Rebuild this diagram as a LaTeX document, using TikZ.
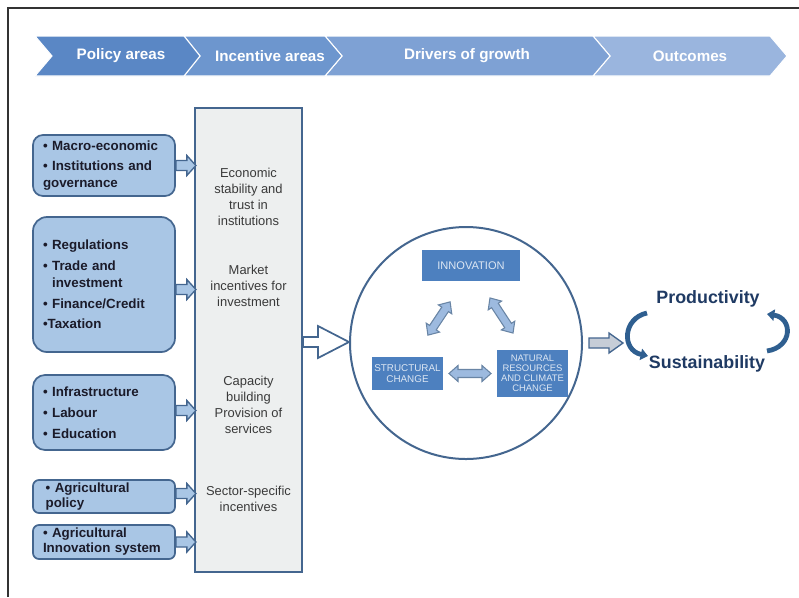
\documentclass[tikz,border=0pt]{standalone}
\usepackage{fontspec}
\setmainfont{Liberation Sans}
\usetikzlibrary{arrows.meta,calc}

% one drawing unit = 0.75pt
\def\pxu{0.75pt}

\definecolor{chevA}{HTML}{5A87C5}
\definecolor{chevB}{HTML}{6D96CE}
\definecolor{chevC}{HTML}{7EA1D4}
\definecolor{chevD}{HTML}{9AB5DE}
\definecolor{steel}{HTML}{44668F}
\definecolor{boxfill}{HTML}{A9C6E5}
\definecolor{panelfill}{HTML}{EDEFEF}
\definecolor{driverfill}{HTML}{4D80BF}
\definecolor{drivertext}{HTML}{DCE6F3}
\definecolor{darrfill}{HTML}{9DBADF}
\definecolor{navy}{HTML}{1F3A63}
\definecolor{cyclecol}{HTML}{2F5F90}
\definecolor{labelgray}{HTML}{3A3A3A}
\definecolor{outfill}{HTML}{C6CDD7}
\definecolor{boxtext}{HTML}{1B1B2A}
\definecolor{framecol}{HTML}{333333}

\tikzset{
  chev/.style={fill=#1, draw=white, line width=0.8pt, line join=miter},
  chevlabel/.style={text=white, font=\bfseries\fontsize{11.4}{13}\selectfont, inner sep=0pt},
  policybox/.style={draw=steel, fill=boxfill, line width=1.3pt,
    text width=122*\pxu, inner xsep=10*\pxu, inner ysep=0pt, align=left,
    text=boxtext, font=\bfseries\fontsize{10}{12.6}\selectfont},
  panelbox/.style={draw=steel, fill=panelfill, line width=1.5pt, inner sep=0pt},
  panellabel/.style={align=center, text=labelgray, inner sep=0pt,
    font=\fontsize{9.7}{12}\selectfont},
  drivercircle/.style={circle, draw=steel, fill=white, line width=1.5pt, inner sep=0pt},
  driverbox/.style={fill=driverfill, text=drivertext, align=center, inner sep=0pt},
  outcomelabel/.style={text=navy, font=\bfseries\fontsize{13.4}{15}\selectfont, inner sep=0pt},
  smallarrow/.style={draw=steel, fill=boxfill, line width=1pt, line join=miter},
  bigarrow/.style={draw=steel, fill=white, line width=1.3pt, line join=miter},
  outarrow/.style={draw=steel, fill=outfill, line width=1pt, line join=miter},
  dblarrow/.style={draw=steel!80, fill=darrfill, line width=0.8pt, line join=miter},
  cyclearrow/.style={draw=cyclecol, line width=3.6pt,
    -{Triangle[length=5.5pt,width=8.5pt]}},
  frameline/.style={draw=framecol, line width=1pt},
  pics/smallarr/.style={code={
    \draw[smallarrow] (0,-5) -- (11,-5) -- (11,-10) -- (20,0) -- (11,10) -- (11,5) -- (0,5) -- cycle;}},
  pics/bigarr/.style={code={
    \draw[bigarrow] (0,-5) -- (15,-5) -- (15,-16) -- (46,0) -- (15,16) -- (15,5) -- (0,5) -- cycle;}},
  pics/outarr/.style={code={
    \draw[outarrow] (0,-5) -- (20,-5) -- (20,-10) -- (34,0) -- (20,10) -- (20,5) -- (0,5) -- cycle;}},
  pics/dblarr/.style={code={
    \draw[dblarrow] ({-#1/2},0) -- ({-#1/2+9},-8) -- ({-#1/2+9},-4) -- ({#1/2-9},-4)
      -- ({#1/2-9},-8) -- ({#1/2},0) -- ({#1/2-9},8) -- ({#1/2-9},4)
      -- ({-#1/2+9},4) -- ({-#1/2+9},8) -- cycle;}},
}

\begin{document}
\begin{tikzpicture}[x=0.75pt, y=-0.75pt]
\useasboundingbox (0,0) rectangle (799,597);

% frame
\draw[frameline] (8,597) -- (8,8) -- (799,8);

% chevron band
\path[chev=chevD] (593,36) -- (770,36) -- (787,56) -- (770,76) -- (593,76) -- (610,56) -- cycle;
\path[chev=chevC] (325,36) -- (593,36) -- (610,56) -- (593,76) -- (325,76) -- (342,56) -- cycle;
\path[chev=chevB] (184,36) -- (325,36) -- (342,56) -- (325,76) -- (184,76) -- (200,56) -- cycle;
\path[chev=chevA] (35,36) -- (184,36) -- (200,56) -- (184,76) -- (35,76) -- (52,56) -- cycle;
\node[chevlabel] (policy) at (121,56) {Policy areas};
\node[chevlabel] (incent) at (270,56) {Incentive areas};
\node[chevlabel] (drivers) at (467,56) {Drivers of growth};
\node[chevlabel] (outcomes) at (690,56) {Outcomes};

% incentive panel
\node[panelbox, minimum width=107*\pxu, minimum height=464*\pxu] (inc) at (248.5,340) {};
\node[panellabel] (stab) at (248.5,197) {Economic\\stability and\\trust in\\institutions};
\node[panellabel] (market) at (248.5,286) {Market\\incentives for\\investment};
\node[panellabel] (capac) at (248.5,405) {Capacity\\building\\Provision of\\services};
\node[panellabel] (sector) at (248.5,499) {Sector-specific\\incentives};

% policy boxes
\node[policybox, rounded corners=10*\pxu, minimum height=61*\pxu] (b1) at (104,165.5)
  {• Macro-economic\\[3pt]• Institutions and\\governance};
\node[policybox, rounded corners=14*\pxu, minimum height=135*\pxu] (b2) at (104,284.5)
  {• Regulations\\[3pt]• Trade and\\\phantom{• }investment\\[3pt]• Finance/Credit\\[3pt]•Taxation};
\node[policybox, rounded corners=12*\pxu, minimum height=75*\pxu] (b3) at (104,412.5)
  {• Infrastructure\\[3pt]• Labour\\[3pt]• Education};
\node[policybox, rounded corners=6*\pxu, minimum height=33*\pxu, font=\bfseries\fontsize{10}{11.6}\selectfont] (b4) at (104,496.5)
  {\hspace*{2pt}• Agricultural\\\hspace*{2pt}policy};
\node[policybox, rounded corners=6*\pxu, minimum height=34*\pxu, font=\bfseries\fontsize{10}{11.2}\selectfont] (b5) at (104,542)
  {• Agricultural\\Innovation system};

% arrows into the panel
\pic at (b1.east) {smallarr};
\pic at ($(b2.east)+(0,5)$) {smallarr};
\pic at ($(b3.east)+(0,-2)$) {smallarr};
\pic at ($(b4.east)+(0,-3)$) {smallarr};
\pic at (b5.east) {smallarr};

% drivers of growth
\node[drivercircle, minimum size=232*\pxu] (circ) at (466,343) {};
\pic at (inc.east |- 0,342) {bigarr};
\node[driverbox, minimum width=98*\pxu, minimum height=31*\pxu,
  font=\fontsize{8.3}{10}\selectfont] (innov) at (471,265.5) {INNOVATION};
\node[driverbox, minimum width=71*\pxu, minimum height=33*\pxu,
  font=\fontsize{7.4}{8.4}\selectfont] (struct) at (407.5,373.5) {STRUCTURAL\\CHANGE};
\node[driverbox, minimum width=71*\pxu, minimum height=47*\pxu,
  font=\fontsize{7.1}{7.6}\selectfont] (natural) at (532.5,373.5) {NATURAL\\RESOURCES\\AND CLIMATE\\CHANGE};
\pic[rotate=56.3] at (439,318.5) {dblarr=40};
\pic[rotate=-56.7] at (501.5,315.5) {dblarr=42};
\pic at ($(struct.east)!0.5!(natural.west)$) {dblarr=42};

% outcomes
\pic at ($(circ.east)+(6,0)$) {outarr};
\node[outcomelabel] (prod) at (708,299) {Productivity};
\node[outcomelabel] (sust) at (707,364) {Sustainability};
\coordinate (la1) at (647,313);
\coordinate (la2) at (648,356);
\coordinate (ra1) at (767,351);
\coordinate (ra2) at (767,314);
\draw[cyclearrow] (la1) .. controls (623,318) and (621,350) .. (la2);
\draw[cyclearrow] (ra1) .. controls (793,347) and (793,318) .. (ra2);
\end{tikzpicture}
\end{document}
